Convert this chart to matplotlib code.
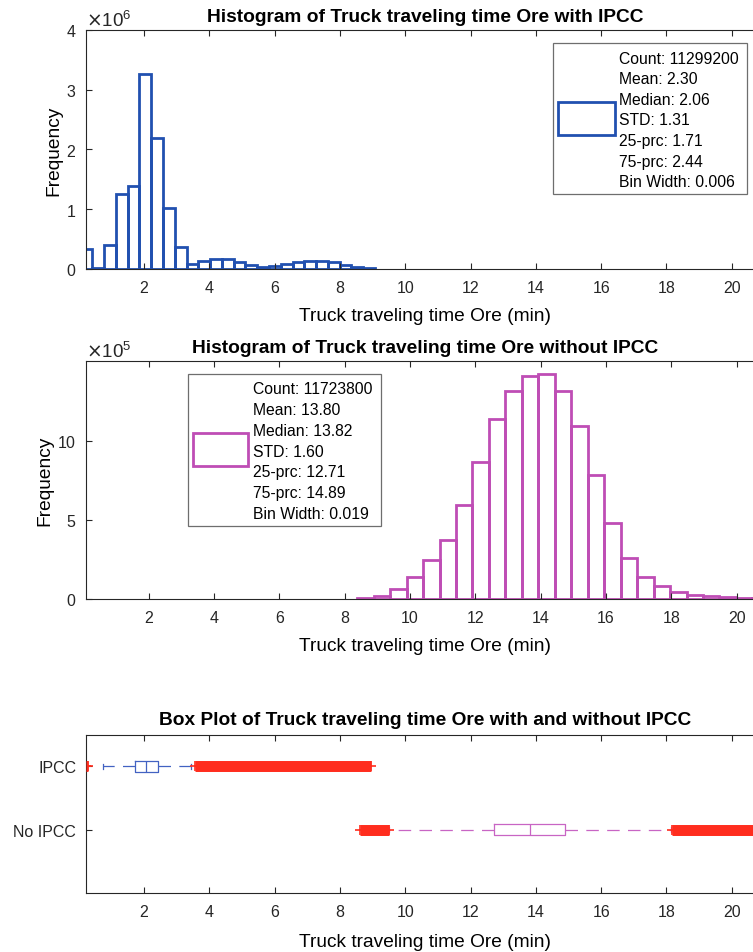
import numpy as np
import matplotlib
matplotlib.use("Agg")
import matplotlib.pyplot as plt
import matplotlib.transforms as mtransforms
from matplotlib.patches import Rectangle
from matplotlib.ticker import ScalarFormatter

# ---------------- data ----------------
ipcc_edges = [0.056, 0.417, 0.777, 1.138, 1.499, 1.860, 2.220, 2.581, 2.942, 3.302,
              3.663, 4.024, 4.384, 4.745, 5.106, 5.467, 5.827, 6.188, 6.549, 6.909,
              7.270, 7.631, 7.991, 8.352, 8.713, 9.074]
ipcc_counts = [0.33e6, 0.01e6, 0.40e6, 1.25e6, 1.39e6, 3.26e6, 2.19e6, 1.02e6, 0.36e6,
               0.09e6, 0.13e6, 0.17e6, 0.16e6, 0.12e6, 0.07e6, 0.03e6, 0.05e6, 0.08e6,
               0.12e6, 0.13e6, 0.13e6, 0.12e6, 0.06e6, 0.03e6, 0.02e6]

noipcc_edges = [8.385, 8.889, 9.393, 9.897, 10.401, 10.905, 11.410, 11.914, 12.418,
                12.922, 13.426, 13.930, 14.434, 14.938, 15.442, 15.947, 16.451, 16.955,
                17.459, 17.963, 18.467, 18.971, 19.475, 19.979, 20.483, 20.988]
noipcc_counts = [0.05e5, 0.2e5, 0.63e5, 1.4e5, 2.43e5, 3.73e5, 5.91e5, 8.66e5, 11.36e5,
                 13.12e5, 14.05e5, 14.17e5, 13.12e5, 10.9e5, 7.84e5, 4.82e5, 2.6e5,
                 1.36e5, 0.8e5, 0.46e5, 0.27e5, 0.17e5, 0.1e5, 0.08e5, 0.05e5]

ipcc_summary = dict(count=11299200, mean=2.30, median=2.06, std=1.31,
                    p25=1.71, p75=2.44, binwidth=0.006)
noipcc_summary = dict(count=11723800, mean=13.80, median=13.82, std=1.60,
                      p25=12.71, p75=14.89, binwidth=0.019)

groups = ["IPCC", "No IPCC"]
whiskers = [(0.74, 3.45), (9.50, 18.15)]
outlier_ranges = [[(0.22, 0.30), (3.56, 8.94)],
                  [(8.60, 9.49), (18.17, 22.5)]]

blue = "#2150b0"
purple = "#bf4db5"
box_blue = "#4262c2"
box_purple = "#c865c4"
red = "#ff2d1e"
axcol = "#262626"

plt.rcParams["font.family"] = ["Liberation Sans", "DejaVu Sans"]
plt.rcParams["lines.scale_dashes"] = False
plt.rcParams["text.color"] = axcol

W, H = 753, 953
fig = plt.figure(figsize=(W / 100, H / 100), dpi=100)
# pixel coordinates with origin at the top left
px = mtransforms.Affine2D().scale(1 / W, -1 / H).translate(0, 1) + fig.transFigure


def axes_px(left, top, right, bottom):
    return fig.add_axes([left / W, 1 - bottom / H, (right - left) / W, (bottom - top) / H])


def style(ax):
    for s in ax.spines.values():
        s.set_color(axcol)
        s.set_linewidth(0.8)
    ax.tick_params(direction="in", top=True, right=True, length=4, width=0.8,
                   colors=axcol, labelsize=11.5)
    ax.tick_params(axis="x", pad=7.8)
    ax.tick_params(axis="y", pad=7)


def stats_lines(s):
    return ["Count: %d" % s["count"], "Mean: %.2f" % s["mean"],
            "Median: %.2f" % s["median"], "STD: %.2f" % s["std"],
            "25-prc: %.2f" % s["p25"], "75-prc: %.2f" % s["p75"],
            "Bin Width: %.3f" % s["binwidth"]]


def stats_box(box, handle, text_x, first_y, dy, color, lines):
    x0, y0, x1, y1 = box
    fig.add_artist(Rectangle((x0, y0), x1 - x0, y1 - y0, transform=px, fill=True,
                             facecolor="white", edgecolor="#6e6e6e", lw=0.9, zorder=5))
    hx0, hy0, hx1, hy1 = handle
    fig.add_artist(Rectangle((hx0, hy0), hx1 - hx0, hy1 - hy0, transform=px, fill=False,
                             edgecolor=color, lw=2.0, zorder=6))
    for i, line in enumerate(lines):
        fig.text(text_x, first_y + i * dy, line, transform=px, fontsize=11.3,
                 va="center", ha="left", color="black", zorder=7)


def hist_axis(ax, edges, counts, color, xlim, ylim, yticks, power, title):
    edges = np.asarray(edges)
    ax.bar(edges[:-1], counts, width=np.diff(edges), align="edge", fill=False,
           edgecolor=color, linewidth=2.0)
    ax.set_xlim(*xlim)
    ax.set_ylim(*ylim)
    ax.set_xticks(range(2, 21, 2))
    ax.set_yticks(yticks)
    fmt = ScalarFormatter(useMathText=True)
    fmt.set_powerlimits((power, power))
    ax.yaxis.set_major_formatter(fmt)
    ax.yaxis.get_offset_text().set_fontsize(13.5)
    ax.set_title(title, fontsize=13.8, fontweight="bold", pad=6.5, color="black")
    ax.set_xlabel("Truck traveling time Ore (min)", fontsize=13.8, labelpad=8.5)
    ax.set_ylabel("Frequency", fontsize=13.8, labelpad=2.5)
    style(ax)


# ---------------- histogram with IPCC ----------------
ax1 = axes_px(86, 30.7, 764.4, 270)
hist_axis(ax1, ipcc_edges, ipcc_counts, blue, (0.224, 21.0), (0, 4e6),
          [0, 1e6, 2e6, 3e6, 4e6], 6,
          "Histogram of Truck traveling time Ore with IPCC")
stats_box((553.3, 44, 746.7, 195), (558, 102.7, 615, 136), 619.3, 59, 20.6, blue,
          stats_lines(ipcc_summary))

# ---------------- histogram without IPCC ----------------
ax2 = axes_px(86, 362.3, 764.4, 600)
hist_axis(ax2, noipcc_edges, noipcc_counts, purple, (0.084, 20.85), (0, 1.5e6),
          [0, 5e5, 10e5], 5,
          "Histogram of Truck traveling time Ore without IPCC")
stats_box((187.7, 375, 381, 526.7), (193.3, 434.3, 248.3, 466.7), 253.3, 390, 20.7,
          purple, stats_lines(noipcc_summary))

# ---------------- box plot ----------------
ax3 = axes_px(86, 735.7, 764.4, 894)
summaries = [ipcc_summary, noipcc_summary]
colors = [box_blue, box_purple]
positions = [1, 2]
for pos, s, wh, ranges, c in zip(positions, summaries, whiskers, outlier_ranges, colors):
    fl = [v for r in ranges for v in r]
    st = dict(med=s["median"], q1=s["p25"], q3=s["p75"], whislo=wh[0], whishi=wh[1],
              fliers=fl)
    ax3.bxp([st], positions=[pos], orientation="horizontal", widths=0.174,
            capwidths=0.08, showfliers=True,
            boxprops=dict(color=c, lw=0.9),
            medianprops=dict(color=c, lw=0.9),
            whiskerprops=dict(color=c, lw=0.9, linestyle=(0, (9, 6))),
            capprops=dict(color=c, lw=0.9),
            flierprops=dict(marker="+", markeredgecolor=red, markersize=7.5,
                            markeredgewidth=1.2, linestyle="none"))
    for lo, hi in ranges:
        ax3.hlines(pos, lo, hi, colors=red, linewidth=7.9, capstyle="butt", zorder=3)

ax3.set_xlim(0.224, 21.0)
ax3.set_ylim(3.0, 0.5)
ax3.set_xticks(range(2, 21, 2))
ax3.set_xticklabels([str(v) for v in range(2, 21, 2)])
ax3.set_yticks(positions)
ax3.set_yticklabels(groups)
ax3.set_title("Box Plot of Truck traveling time Ore with and without IPCC",
              fontsize=13.8, fontweight="bold", pad=7.5, color="black")
ax3.set_xlabel("Truck traveling time Ore (min)", fontsize=13.8, labelpad=10.5)
style(ax3)

fig.savefig("out.png", dpi=100)
